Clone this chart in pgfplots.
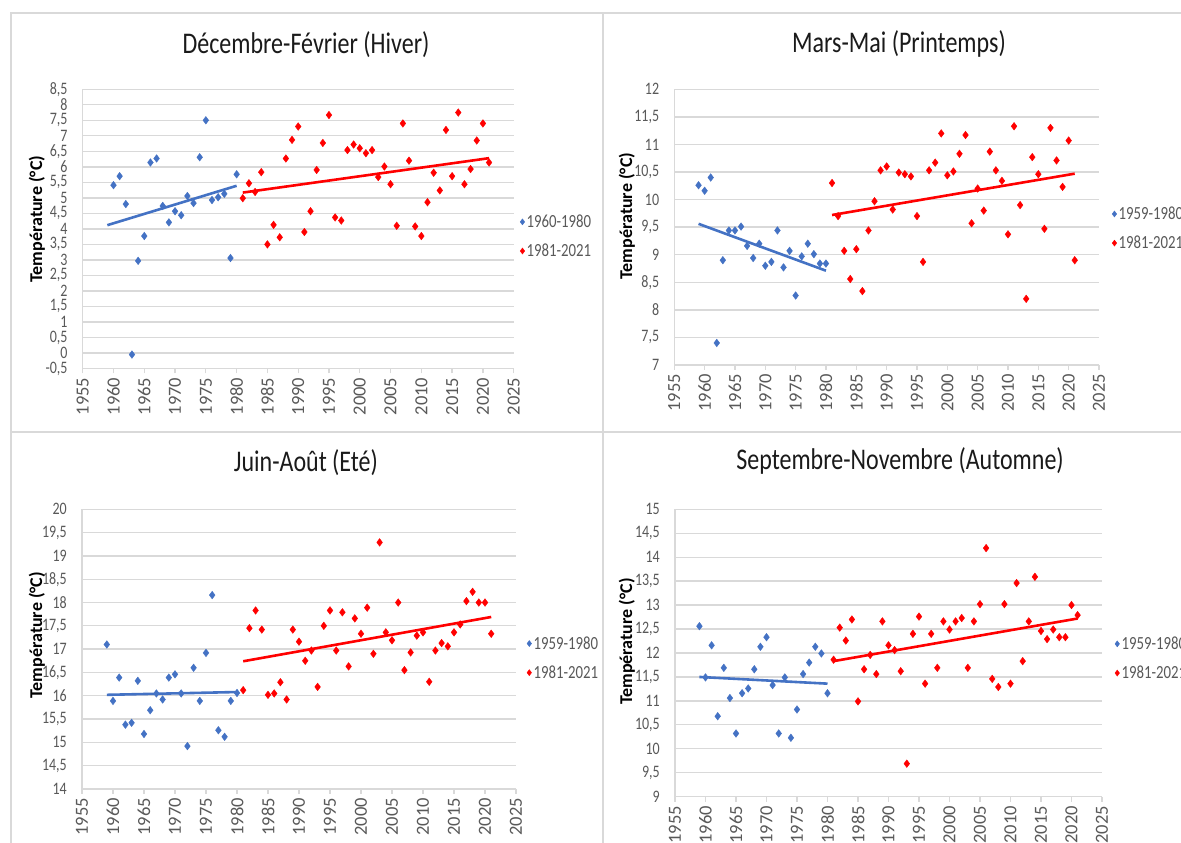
\documentclass[border=0pt]{standalone}
\usepackage{fontspec}
\setmainfont{Carlito}
\newfontfamily\cfont[FakeStretch=0.8]{Carlito}
\usepackage{pgfplots}
\pgfplotsset{compat=1.18}
\definecolor{gridgray}{HTML}{D9D9D9}
\definecolor{tickgray}{HTML}{595959}
\definecolor{xblue}{HTML}{4472C4}
\definecolor{xred}{HTML}{FF0000}
\definecolor{titlec}{HTML}{1A1A1A}
\pgfplotsset{
  panel/.style={
    scale only axis,
    xmin=1955, xmax=2025,
    xtick={1955,1960,...,2025},
    scaled x ticks=false,
    axis x line*=bottom, axis y line*=left,
    axis line style={draw=gridgray, line width=1.3pt, -},
    ymajorgrids, major grid style={draw=gridgray, line width=1.3pt},
    tick align=outside,
    major tick length=5pt,
    xtick style={draw=gridgray, line width=1.3pt},
    ytick style={draw=none},
    /pgf/number format/assume math mode=true,
    xticklabel style={yshift=-4pt, rotate=90, anchor=east, inner sep=0pt,
      font=\fontsize{18.5}{20}\selectfont, text=tickgray,
      /pgf/number format/1000 sep={}},
    yticklabel style={inner sep=0pt, xshift=-10pt, anchor=east,
      font=\cfont\fontsize{17.5}{19}\selectfont, text=tickgray,
      /pgf/number format/use comma},
    title style={font=\cfont\fontsize{30}{34}\selectfont, text=titlec, anchor=base},
    ylabel={Température (°C)},
    ylabel style={font=\bfseries\fontsize{18}{20}\selectfont, text=black, anchor=base, rotate=0},
    legend style={draw=none, fill=none, inner sep=0pt, anchor=west,
      font=\cfont\fontsize{18.5}{20}\selectfont, text=tickgray,
      row sep=11pt, cells={anchor=west}},
    legend image code/.code={\draw[#1, mark size=3pt] plot coordinates {(3pt,0pt)};},
  },
  bl/.style={only marks, mark=diamond*, mark size=3.8pt, color=xblue},
  rd/.style={only marks, mark=diamond*, mark size=3.8pt, color=xred},
  blt/.style={no marks, color=xblue, line width=2.6pt, forget plot},
  rdt/.style={no marks, color=xred, line width=2.6pt, forget plot},
}
\begin{document}
\begin{tikzpicture}
\useasboundingbox (0,0) rectangle (1181pt,843pt);
\fill[white] (0,0) rectangle (1181pt,843pt);
\clip (0,0) rectangle (1181pt,843pt);
% panel frames
\draw[gridgray, line width=2pt] (11pt,0) -- (11pt,830pt) -- (1181pt,830pt);
\draw[gridgray, line width=2pt] (603pt,0) -- (603pt,830pt);
\draw[gridgray, line width=2pt] (11pt,411pt) -- (1181pt,411pt);

% ---------- Panel 1 : Hiver ----------
\begin{axis}[panel, at={(82.7pt,474.5pt)}, anchor=south west,
  width=431pt, height=279.2pt,
  ymin=-0.5, ymax=8.5, ytick distance=0.5,
  title={Décembre-Février (Hiver)},
  title style={at={(axis description cs:0.518,1.1085)}},
  ylabel style={at={(axis description cs:-0.0944,0.535)}},
  legend style={at={(axis description cs:1.0146,0.473)}}]
\addplot[bl] coordinates {(1960,5.41)(1961,5.70)(1962,4.80)(1963,-0.05)(1964,2.97)(1965,3.77)(1966,6.14)(1967,6.27)(1968,4.74)(1969,4.21)(1970,4.57)(1971,4.44)(1972,5.06)(1973,4.83)(1974,6.31)(1975,7.50)(1976,4.93)(1977,5.02)(1978,5.13)(1979,3.06)(1980,5.76)};
\addlegendentry{1960-1980}
\addplot[rd] coordinates {(1981,4.99)(1982,5.47)(1983,5.19)(1984,5.83)(1985,3.50)(1986,4.13)(1987,3.73)(1988,6.27)(1989,6.87)(1990,7.30)(1991,3.90)(1992,4.57)(1993,5.90)(1994,6.77)(1995,7.67)(1996,4.37)(1997,4.27)(1998,6.54)(1999,6.72)(2000,6.60)(2001,6.44)(2002,6.54)(2003,5.67)(2004,6.01)(2005,5.44)(2006,4.10)(2007,7.40)(2008,6.20)(2009,4.08)(2010,3.77)(2011,4.86)(2012,5.81)(2013,5.24)(2014,7.19)(2015,5.70)(2016,7.75)(2017,5.44)(2018,5.93)(2019,6.85)(2020,7.40)(2021,6.14)};
\addlegendentry{1981-2021}
\addplot[blt] coordinates {(1959,4.12)(1980,5.39)};
\addplot[rdt] coordinates {(1981,5.17)(2021,6.28)};
\end{axis}

% ---------- Panel 2 : Printemps ----------
\begin{axis}[panel, at={(674.3pt,478pt)}, anchor=south west,
  width=424.7pt, height=275.7pt,
  ymin=7, ymax=12, ytick distance=0.5,
  title={Mars-Mai (Printemps)},
  title style={at={(axis description cs:0.529,1.110)}},
  ylabel style={at={(axis description cs:-0.0996,0.54)}},
  legend style={at={(axis description cs:1.0306,0.495)}}]
\addplot[bl] coordinates {(1959,10.26)(1960,10.16)(1961,10.40)(1962,7.40)(1963,8.90)(1964,9.44)(1965,9.44)(1966,9.51)(1967,9.16)(1968,8.94)(1969,9.20)(1970,8.80)(1971,8.87)(1972,9.44)(1973,8.77)(1974,9.07)(1975,8.26)(1976,8.97)(1977,9.20)(1978,9.01)(1979,8.84)(1980,8.84)};
\addlegendentry{1959-1980}
\addplot[rd] coordinates {(1981,10.30)(1982,9.70)(1983,9.07)(1984,8.56)(1985,9.10)(1986,8.34)(1987,9.44)(1988,9.97)(1989,10.53)(1990,10.60)(1991,9.82)(1992,10.49)(1993,10.46)(1994,10.42)(1995,9.70)(1996,8.87)(1997,10.53)(1998,10.67)(1999,11.20)(2000,10.44)(2001,10.51)(2002,10.83)(2003,11.17)(2004,9.57)(2005,10.20)(2006,9.80)(2007,10.87)(2008,10.53)(2009,10.34)(2010,9.37)(2011,11.33)(2012,9.90)(2013,8.20)(2014,10.77)(2015,10.46)(2016,9.47)(2017,11.30)(2018,10.71)(2019,10.23)(2020,11.07)(2021,8.90)};
\addlegendentry{1981-2021}
\addplot[blt] coordinates {(1959,9.56)(1980,8.71)};
\addplot[rdt] coordinates {(1981,9.72)(2021,10.47)};
\end{axis}

% ---------- Panel 3 : Ete ----------
\begin{axis}[panel, at={(82pt,54pt)}, anchor=south west,
  width=434pt, height=279.7pt,
  ymin=14, ymax=20, ytick distance=0.5,
  title={Juin-Août (Eté)},
  title style={at={(axis description cs:0.516,1.112)}},
  ylabel style={at={(axis description cs:-0.092,0.55)}},
  legend style={at={(axis description cs:1.025,0.468)}}]
\addplot[bl] coordinates {(1959,17.10)(1960,15.89)(1961,16.39)(1962,15.38)(1963,15.42)(1964,16.32)(1965,15.18)(1966,15.69)(1967,16.05)(1968,15.92)(1969,16.39)(1970,16.46)(1971,16.05)(1972,14.92)(1973,16.60)(1974,15.89)(1975,16.92)(1976,18.16)(1977,15.26)(1978,15.12)(1979,15.89)(1980,16.06)};
\addlegendentry{1959-1980}
\addplot[rd] coordinates {(1981,16.12)(1982,17.45)(1983,17.83)(1984,17.42)(1985,16.02)(1986,16.05)(1987,16.29)(1988,15.92)(1989,17.42)(1990,17.16)(1991,16.75)(1992,16.97)(1993,16.19)(1994,17.50)(1995,17.83)(1996,16.97)(1997,17.79)(1998,16.63)(1999,17.66)(2000,17.33)(2001,17.89)(2002,16.90)(2003,19.29)(2004,17.36)(2005,17.19)(2006,18.00)(2007,16.55)(2008,16.93)(2009,17.29)(2010,17.36)(2011,16.30)(2012,16.97)(2013,17.13)(2014,17.06)(2015,17.36)(2016,17.53)(2017,18.03)(2018,18.23)(2019,18.00)(2020,18.00)(2021,17.33)};
\addlegendentry{1981-2021}
\addplot[blt] coordinates {(1959,16.02)(1980,16.08)};
\addplot[rdt] coordinates {(1981,16.74)(2021,17.69)};
\end{axis}

% ---------- Panel 4 : Automne ----------
\begin{axis}[panel, at={(675pt,46.3pt)}, anchor=south west,
  width=427pt, height=287.4pt,
  ymin=9, ymax=15, ytick distance=0.5,
  title={Septembre-Novembre (Automne)},
  title style={at={(axis description cs:0.527,1.116)}},
  ylabel style={at={(axis description cs:-0.1007,0.54)}},
  legend style={at={(axis description cs:1.030,0.481)}}]
\addplot[bl] coordinates {(1959,12.56)(1960,11.49)(1961,12.16)(1962,10.68)(1963,11.69)(1964,11.06)(1965,10.32)(1966,11.16)(1967,11.26)(1968,11.66)(1969,12.13)(1970,12.33)(1971,11.33)(1972,10.32)(1973,11.49)(1974,10.23)(1975,10.82)(1976,11.56)(1977,11.80)(1978,12.13)(1979,11.99)(1980,11.16)};
\addlegendentry{1959-1980}
\addplot[rd] coordinates {(1981,11.86)(1982,12.53)(1983,12.26)(1984,12.70)(1985,10.99)(1986,11.66)(1987,11.96)(1988,11.56)(1989,12.66)(1990,12.16)(1991,12.06)(1992,11.62)(1993,9.69)(1994,12.40)(1995,12.76)(1996,11.36)(1997,12.40)(1998,11.69)(1999,12.66)(2000,12.49)(2001,12.66)(2002,12.73)(2003,11.69)(2004,12.66)(2005,13.02)(2006,14.19)(2007,11.46)(2008,11.29)(2009,13.02)(2010,11.36)(2011,13.46)(2012,11.83)(2013,12.66)(2014,13.59)(2015,12.46)(2016,12.29)(2017,12.49)(2018,12.33)(2019,12.33)(2020,13.00)(2021,12.79)};
\addlegendentry{1981-2021}
\addplot[blt] coordinates {(1959,11.50)(1980,11.36)};
\addplot[rdt] coordinates {(1981,11.83)(2021,12.72)};
\end{axis}
\end{tikzpicture}
\end{document}
